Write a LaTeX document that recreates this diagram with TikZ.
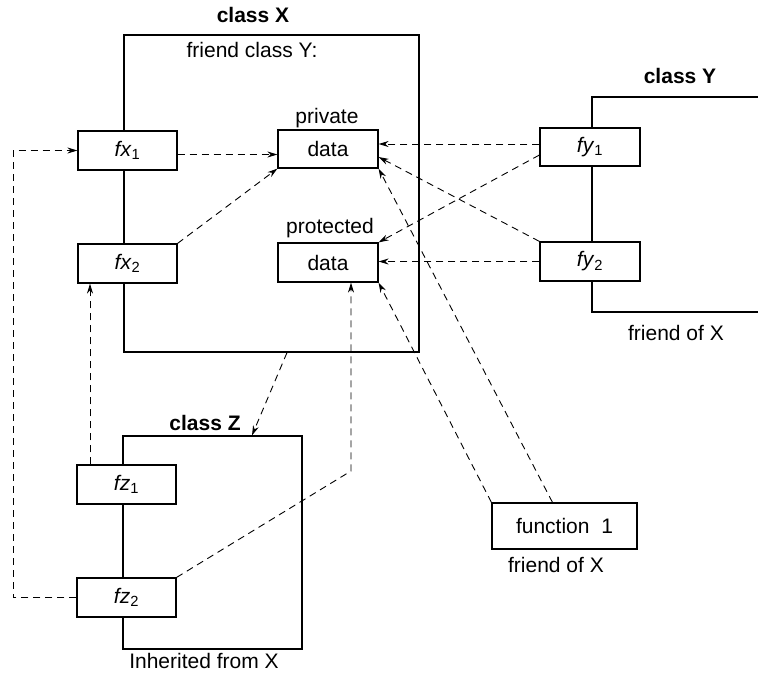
\documentclass[tikz,border=0pt]{standalone}
\usepackage{fontspec}
\setmainfont{Liberation Sans}
\usetikzlibrary{arrows.meta,calc}
\begin{document}
\begin{tikzpicture}[x=1pt,y=-1pt,
  font=\fontsize{21}{25}\selectfont,
  outline/.style={draw,line width=1.2pt,inner sep=0pt},
  member/.style={draw,fill=white,line width=1.2pt,inner sep=0pt,
    minimum width=99pt,minimum height=39pt},
  label/.style={inner sep=0pt,text height=15pt,text depth=4pt},
  title/.style={label,font=\fontsize{21}{25}\selectfont\bfseries},
  link/.style={line width=0.9pt,dash pattern=on 7pt off 5pt,
    -{Stealth[length=10pt,width=6pt]}},
  plainlink/.style={line width=0.9pt,dash pattern=on 7pt off 5pt}]
\useasboundingbox (0,0) rectangle (758,675);

% class outlines
\node[outline,minimum width=295pt,minimum height=317pt] (clsX) at (271.5,193.5) {};
\node[outline,minimum width=179pt,minimum height=213pt] (clsZ) at (212.5,542.5) {};
\draw[line width=1.2pt] (758,97) -- (592,97) -- (592,312) -- (758,312);

% titles and captions
\node[title] (tX) at (253,17) {class X};
\node[label] (fcy) at (252,52) {friend class Y:};
\node[title] (tY) at (680,78) {class Y};
\node[label] (fofx1) at (676,335) {friend of X};
\node[title] (tZ) at (205,425) {class Z};
\node[label] (inh) at (204,663) {Inherited from X};
\node[label] (fofx2) at (556,567) {friend of X};

% members of X
\node[member] (fx1) at (127.5,150.5) {\textit{fx}\textsubscript{1}};
\node[member] (fx2) at (127.5,263.5) {\textit{fx}\textsubscript{2}};
\node[member,minimum width=100pt,minimum height=38pt] (pdata) at (328,149) {data};
\node[member,minimum width=100pt,minimum height=39pt] (qdata) at (328,262.5) {data};
\node[label] (lpriv) at (327,118) {private};
\node[label] (lprot) at (330,228) {protected};

% members of Y
\node[member,minimum width=100pt,minimum height=38pt] (fy1) at (590,147) {\textit{fy}\textsubscript{1}};
\node[member,minimum width=100pt,minimum height=39pt] (fy2) at (590,261.5) {\textit{fy}\textsubscript{2}};

% members of Z
\node[member] (fz1) at (126.5,484.5) {\textit{fz}\textsubscript{1}};
\node[member] (fz2) at (126.5,597.5) {\textit{fz}\textsubscript{2}};

% friend function
\node[member,minimum width=145pt,minimum height=46pt] (fn) at (564.5,526) {function\ \ 1};

% helper points for routed links
\coordinate (lx) at (13,0);
\coordinate (ux) at (90,0);
\coordinate (bend) at (351,471);

% accesses
\draw[link] ([yshift=-4pt]fx1.east) -- ([yshift=-4pt]fx1.east -| pdata.west);
\draw[link] (fx2.north east) -- (pdata.south west);
\draw[link] ([yshift=3pt]fy1.west) -- ([yshift=3pt]fy1.west -| pdata.east);
\draw[link] ([yshift=-8pt]fy1.west) -- (qdata.north east);
\draw[link] (fy2.north west) -- ([yshift=-8pt]pdata.east);
\draw[link] (fy2.west) -- (fy2.west -| qdata.east);
\draw[link] ([xshift=-12pt]fn.north) -- (pdata.south east);
\draw[link] (fn.north west) -- (qdata.south east);
\draw[link] (fz1.north -| ux) -- (fx2.south -| ux);
\draw[link] (fz2.north east) -- (bend) -- (bend |- qdata.south);
\draw[link] (fz2.west) -- (fz2.west -| lx) |- (fx1.west);
\draw[link] ([xshift=15.5pt]clsX.south) -- ([xshift=39.5pt]clsZ.north);
\end{tikzpicture}
\end{document}
